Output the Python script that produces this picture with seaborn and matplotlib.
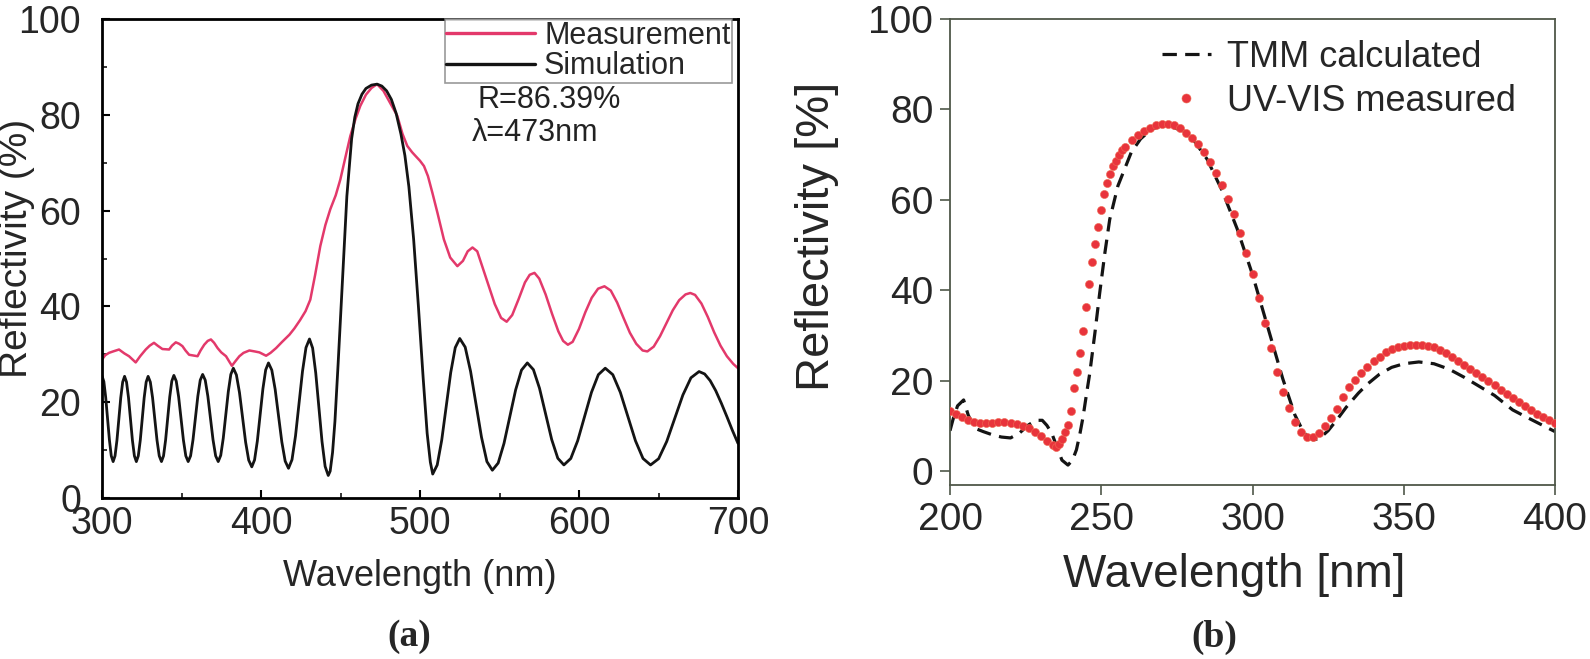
import matplotlib
matplotlib.use("Agg")
import matplotlib.pyplot as plt
import seaborn as sns
import pandas as pd
from matplotlib.lines import Line2D
from matplotlib.ticker import MultipleLocator

# ---------------- data: panel (a) ----------------
meas_a_x = [300, 302, 304.4, 307, 310.7, 314, 317, 321.2, 324, 327.5, 330, 332.7, 335, 338,
            342.2, 344, 346.4, 348.5, 350.6, 352.5, 354.8, 360.1, 362, 364.3, 366.5, 368.5,
            370.5, 372.7, 375, 378, 380, 381.7, 384, 386.4, 389, 392.7, 396, 399, 403.2, 406,
            409.5, 413, 417.9, 421, 424.5, 428, 431, 434, 437.3, 440.5, 443.6, 447, 449.9, 453,
            456.2, 459.5, 462.5, 466, 469.5, 473, 477, 481.5, 485.7, 489, 492, 495, 497.2, 500,
            502.5, 505, 507.8, 511, 515, 519, 523.5, 527, 530, 533, 536, 539, 543, 547, 551,
            554.5, 558, 562, 566, 569, 572, 575, 579, 583, 587, 590, 593, 596, 600, 604, 608,
            612, 616, 620, 624, 628, 632, 636, 640, 643, 647, 651, 655, 659, 663, 667, 670,
            673, 677, 681, 685, 689, 693, 697, 700]
meas_a_y = [28.9, 29.8, 30.3, 30.6, 31.0, 30.2, 29.6, 28.3, 29.6, 31.0, 31.8, 32.4, 31.8, 31.1,
            31.0, 31.8, 32.5, 32.2, 31.7, 30.8, 29.9, 29.6, 30.8, 32.0, 32.8, 33.1,
            32.4, 31.3, 30.4, 29.6, 28.5, 27.6, 28.6, 29.6, 30.3, 30.8, 30.6, 30.4, 29.7, 30.3,
            31.3, 32.5, 34.1, 35.4, 37.1, 39.0, 41.4, 46.5, 52.6, 57.0, 60.3, 63.2, 66.5, 71.0,
            75.6, 79.2, 81.9, 84.2, 85.6, 86.4, 85.0, 82.3, 79.8, 76.0, 73.5, 72.2, 71.4, 70.4,
            69.3, 67.2, 63.7, 59.5, 54.0, 50.2, 48.4, 49.5, 51.5, 52.3, 51.5, 48.5, 44.5, 40.5, 37.6,
            36.8, 38.2, 41.5, 45.0, 46.6, 47.0, 45.8, 42.5, 38.5, 34.8, 32.8, 32.0, 32.6, 35.3, 38.8, 41.8,
            43.7, 44.2, 43.3, 40.8, 37.6, 34.5, 32.2, 30.8, 30.6, 31.6, 33.8, 36.5, 39.2, 41.3, 42.5, 42.8,
            42.4, 40.6, 37.8, 34.6, 31.8, 29.6, 28.0, 27.1]

sim_a_x = [300, 301.17, 302.33, 303.5, 304.67, 305.83,
           307, 308.2, 309.4, 310.6, 311.8, 313.0,
           314.2, 315.43, 316.67, 317.9, 319.13, 320.37,
           321.6, 322.83, 324.07, 325.3, 326.53, 327.77,
           329, 330.4, 331.8, 333.2, 334.6, 336.0,
           337.4, 338.7, 340.0, 341.3, 342.6, 343.9,
           345.2, 346.7, 348.2, 349.7, 351.2, 352.7,
           354.2, 355.72, 357.23, 358.75, 360.27, 361.78,
           363.3, 364.93, 366.57, 368.2, 369.83, 371.47,
           373.1, 374.68, 376.27, 377.85, 379.43, 381.02,
           382.6, 384.53, 386.47, 388.4, 390.33, 392.27,
           394.2, 395.95, 397.7, 399.45, 401.2, 402.95,
           404.7, 406.8, 408.9, 411.0, 413.1, 415.2,
           417.3, 419.5, 421.7, 423.9, 426.1, 428.3,
           430.5, 432.47, 434.43, 436.4, 438.37, 440.33,
           442.3, 443.5, 445, 446.5, 448.5, 451, 454, 457, 459, 461, 463.5, 466, 469.5,
           473, 476, 479, 482, 485, 488, 490.5, 493, 496, 499, 502, 504.5, 506.5,
           508, 510.83, 513.67, 516.5, 519.33, 522.17,
           525, 528.42, 531.83, 535.25, 538.67, 542.08,
           545.5, 549.17, 552.83, 556.5, 560.17, 563.83,
           567.5, 571.33, 575.17, 579.0, 582.83, 586.67,
           590.5, 594.83, 599.17, 603.5, 607.83, 612.17,
           616.5, 621.25, 626.0, 630.75, 635.5, 640.25,
           645, 650.08, 655.17, 660.25, 665.33, 670.42,
           675.5, 679, 682.5, 686, 689.5, 693, 696.5, 700]
sim_a_y = [25.5, 24.3, 21.0, 16.55, 12.1, 8.8,
           7.6, 8.8, 12.05, 16.5, 20.95, 24.2,
           25.4, 24.2, 20.95, 16.5, 12.05, 8.8,
           7.6, 8.8, 12.05, 16.5, 20.95, 24.2,
           25.4, 24.2, 20.95, 16.5, 12.05, 8.8,
           7.6, 8.8, 12.1, 16.6, 21.1, 24.4,
           25.6, 24.4, 21.1, 16.6, 12.1, 8.8,
           7.6, 8.8, 12.15, 16.7, 21.25, 24.6,
           25.8, 24.6, 21.25, 16.7, 12.15, 8.8,
           7.6, 8.9, 12.5, 17.35, 22.2, 25.8,
           27.1, 25.7, 22.0, 16.8, 11.65, 7.9,
           6.5, 7.95, 11.9, 17.35, 22.8, 26.75,
           28.2, 26.7, 22.7, 17.2, 11.7, 7.7,
           6.2, 8.0, 12.95, 19.7, 26.45, 31.4,
           33.2, 31.3, 26.1, 18.95, 11.8, 6.6,
           4.7, 5.6, 9.5, 16.0, 28.0, 44.0, 63.0, 75.0, 79.5, 82.3, 84.3, 85.5, 86.2,
           86.4, 86.0, 85.0, 83.2, 80.3, 76.0, 71.5, 65.0, 54.0, 40.0, 25.0, 13.5, 7.5,
           5.0, 6.9, 12.1, 19.15, 26.2, 31.4,
           33.3, 31.5, 26.4, 19.55, 12.7, 7.6,
           5.8, 7.3, 11.4, 17.0, 22.6, 26.7,
           28.2, 26.8, 22.9, 17.55, 12.2, 8.3,
           6.9, 8.25, 11.95, 17.0, 22.05, 25.75,
           27.1, 25.75, 22.05, 17.0, 11.95, 8.25,
           6.9, 8.2, 11.8, 16.65, 21.5, 25.1,
           26.4, 25.9, 24.5, 22.4, 19.8, 17.0, 14.1, 11.4]

# ---------------- data: panel (b) ----------------
meas_b_x = [200, 202, 204, 206, 208, 210, 212, 214, 216, 218, 220, 222, 224, 226, 228, 230, 232,
            234, 235, 236, 237, 238, 239, 240, 241, 242, 243, 244, 245, 246, 247, 248, 249, 250,
            251, 252, 253, 254, 255, 256, 257, 258, 260, 262, 264, 266, 268, 270, 272, 274, 276,
            278, 280, 282, 284, 286, 288, 290, 292, 294, 296, 298, 300, 302, 304, 306, 308, 310,
            312, 314, 316, 318, 320, 322, 324, 326, 328, 330, 332, 334, 336, 338, 340, 342, 344,
            346, 348, 350, 352, 354, 356, 358, 360, 362, 364, 366, 368, 370, 372, 374, 376, 378,
            380, 382, 384, 386, 388, 390, 392, 394, 396, 398, 400]
meas_b_y = [13.3, 12.6, 12.0, 11.4, 10.9, 10.7, 10.7, 10.8, 11.0, 11.0, 10.8, 10.5, 10.1, 9.5, 8.7, 7.8, 6.8,
            5.9, 5.5, 6.0, 7.2, 8.8, 10.3, 13.3, 18.5, 22.0, 26.2, 31.0, 36.3, 41.5, 46.4, 50.3, 54.0, 57.8,
            61.3, 63.8, 65.7, 67.4, 68.6, 70.0, 71.0, 71.8, 73.3, 74.3, 75.2, 75.9, 76.5, 76.8, 76.8, 76.5, 75.9,
            74.9, 73.7, 72.3, 70.6, 68.5, 66.0, 63.2, 60.2, 56.8, 52.8, 48.2, 43.6, 38.4, 32.8, 27.2, 22.0, 17.5,
            14.0, 11.0, 8.8, 7.7, 7.6, 8.5, 10.0, 11.8, 13.8, 16.5, 18.6, 20.3, 21.8, 23.1, 24.3, 25.4, 26.3,
            27.0, 27.5, 27.8, 28.0, 28.0, 28.0, 27.8, 27.4, 26.8, 26.1, 25.3, 24.5, 23.6, 22.7, 21.8, 20.9, 20.0,
            19.1, 18.1, 17.2, 16.3, 15.4, 14.5, 13.6, 12.8, 12.0, 11.3, 10.7]

tmm_b_x = [200, 201, 202.5, 204.5, 206, 208, 211, 214, 217, 220, 223, 226, 228.5, 230.5, 232, 233.6,
           235.3, 237, 239, 240.5, 241.8, 243, 244, 245.1, 246.2, 247.9, 249.5, 251.2, 252.8, 255.5,
           259.9, 263, 266.5, 270, 273, 277.4, 281, 285, 290, 295, 300, 305, 310, 314, 317, 320, 322,
           325, 328, 331, 335, 338, 342, 346, 350, 355, 360, 365, 370, 375, 380, 386, 390, 395, 400]
tmm_b_y = [9.0, 11.5, 14.5, 15.8, 12.5, 9.6, 8.8, 8.1, 7.6, 7.4, 8.5, 10.3, 11.3, 11.3, 10.2, 8.5,
           5.5, 2.5, 1.4, 2.5, 4.8, 8.5, 12.1, 17.0, 21.7, 30.6, 39.5, 48.3, 55.7, 63.1,
           70.5, 73.5, 75.6, 76.4, 76.2, 75.2, 72.8, 69.0, 62.0, 53.5, 43.5, 32.0, 20.5, 12.5, 8.5, 7.0, 7.2,
           9.0, 11.5, 14.2, 17.3, 19.3, 21.5, 23.0, 23.8, 24.2, 23.8, 22.6, 20.8, 18.8, 16.8, 13.6, 12.2, 10.5, 8.8]

xticks_a = [300, 400, 500, 600, 700]
yticks = [0, 20, 40, 60, 80, 100]
xticks_b = [200, 250, 300, 350, 400]

# ---------------- style ----------------
sns.set_style("ticks")
plt.rcParams['font.family'] = ['Liberation Sans', 'DejaVu Sans']

PINK = "#e3396b"
BLACK = "#141414"
RED = "#e8343c"
GREY = "#4f5749"

W, H = 1590, 659
fig = plt.figure(figsize=(W / 100, H / 100), dpi=100)
fig.patch.set_facecolor("white")

a_l, a_r, a_t, a_b = 102, 738, 19, 498
b_l, b_r, b_t, b_b = 950, 1555, 19, 485
ax1 = fig.add_axes([a_l / W, 1 - a_b / H, (a_r - a_l) / W, (a_b - a_t) / H])
ax2 = fig.add_axes([b_l / W, 1 - b_b / H, (b_r - b_l) / W, (b_b - b_t) / H])

# ----- panel (a)
df_meas_a = pd.DataFrame({"wl": meas_a_x, "R": meas_a_y})
df_sim_a = pd.DataFrame({"wl": sim_a_x, "R": sim_a_y})
sns.lineplot(data=df_meas_a, x="wl", y="R", ax=ax1, color=PINK, lw=1.8, label="Measurement")
sns.lineplot(data=df_sim_a, x="wl", y="R", ax=ax1, color=BLACK, lw=2.0, label="Simulation")
ax1.set_xlim(300, 700)
ax1.set_ylim(0, 100)
ax1.set_xticks(xticks_a)
ax1.set_yticks(yticks)
ax1.xaxis.set_minor_locator(MultipleLocator(50))
ax1.yaxis.set_minor_locator(MultipleLocator(10))
ax1.tick_params(which="major", direction="in", length=6, width=1.5, labelsize=27,
                color="black", top=False, right=False)
ax1.tick_params(axis="x", which="major", pad=6)
ax1.tick_params(axis="y", which="major", pad=15)
ax1.tick_params(which="minor", direction="in", length=3.5, width=1.3, top=False, right=False)
for sp in ax1.spines.values():
    sp.set_linewidth(2.0)
    sp.set_color("black")
ax1.set_xlabel("Wavelength (nm)", fontsize=26)
ax1.set_ylabel("Reflectivity (%)", fontsize=28)
ax1.xaxis.set_label_coords(0.5, -(577 - a_b) / (a_b - a_t))
ax1.xaxis.label.set_va("center")
ax1.yaxis.set_label_coords((17 - a_l) / (a_r - a_l), 0.52)
ax1.yaxis.label.set_va("center")
leg1 = ax1.legend(loc="upper right", bbox_to_anchor=(1 - 6 / (a_r - a_l), 1.0), borderaxespad=0,
                  fontsize=22, frameon=True, fancybox=False, handlelength=2.9, handletextpad=0.3,
                  labelspacing=0.03, borderpad=0.05)
leg1.get_frame().set_edgecolor("#808080")
leg1.get_frame().set_linewidth(1.2)
for h in leg1.get_lines():
    h.set_linewidth(2.4)
ax1.text((477 - a_l) / (a_r - a_l), (a_b - 100) / (a_b - a_t), "R=86.39%", transform=ax1.transAxes,
         fontsize=22, va="center", ha="left", color="#222222")
ax1.text((472 - a_l) / (a_r - a_l), (a_b - 133) / (a_b - a_t), "λ=473nm", transform=ax1.transAxes,
         fontsize=22, va="center", ha="left", color="#222222")

# ----- panel (b)
df_tmm_b = pd.DataFrame({"wl": tmm_b_x, "R": tmm_b_y})
df_meas_b = pd.DataFrame({"wl": meas_b_x, "R": meas_b_y})
sns.lineplot(data=df_tmm_b, x="wl", y="R", ax=ax2, color=BLACK, lw=2.3, legend=False)
ax2.get_lines()[-1].set_dashes([4.5, 2.6])
sns.scatterplot(data=df_meas_b, x="wl", y="R", ax=ax2, color=RED, s=34, edgecolor="#ef6a52",
                linewidth=0.4, legend=False, zorder=3)
ax2.set_xlim(200, 400)
ax2.set_ylim(-3, 100)
ax2.set_xticks(xticks_b)
ax2.set_yticks(yticks)
ax2.tick_params(which="major", direction="out", length=7, width=1.2, labelsize=28,
                color=GREY, top=False, right=False)
ax2.tick_params(axis="x", pad=5)
ax2.tick_params(axis="y", pad=5)
for sp in ax2.spines.values():
    sp.set_linewidth(1.3)
    sp.set_color(GREY)
ax2.set_xlabel("Wavelength [nm]", fontsize=33)
ax2.set_ylabel("Reflectivity [%]", fontsize=34)
ax2.xaxis.set_label_coords((1234 - b_l) / (b_r - b_l), -(575 - b_b) / (b_b - b_t))
ax2.xaxis.label.set_va("center")
ax2.yaxis.set_label_coords((817 - b_l) / (b_r - b_l), 0.533)
ax2.yaxis.label.set_va("center")
handles_b = [Line2D([], [], color=BLACK, lw=2.3, dashes=[4.5, 2.6]),
             Line2D([], [], color=RED, marker="o", ls="none", markersize=6.5,
                    markeredgecolor="#ef6a52", markeredgewidth=0.4)]
ax2.legend(handles_b, ["TMM calculated", "UV-VIS measured"], loc="upper left",
           bbox_to_anchor=((1162 - b_l) / (b_r - b_l), (b_b - 40) / (b_b - b_t)), borderaxespad=0,
           frameon=False, fontsize=26, handlelength=1.35, handletextpad=0.45, labelspacing=0.25,
           borderpad=0)

# panel letters
fig.text(409 / W, 1 - 637 / H, "(a)", fontsize=27, fontweight="bold", ha="center", va="center",
         family=["Liberation Serif", "DejaVu Serif"])
fig.text(1214 / W, 1 - 637 / H, "(b)", fontsize=27, fontweight="bold", ha="center", va="center",
         family=["Liberation Serif", "DejaVu Serif"])

fig.savefig("out.png", dpi=100, facecolor="white")
